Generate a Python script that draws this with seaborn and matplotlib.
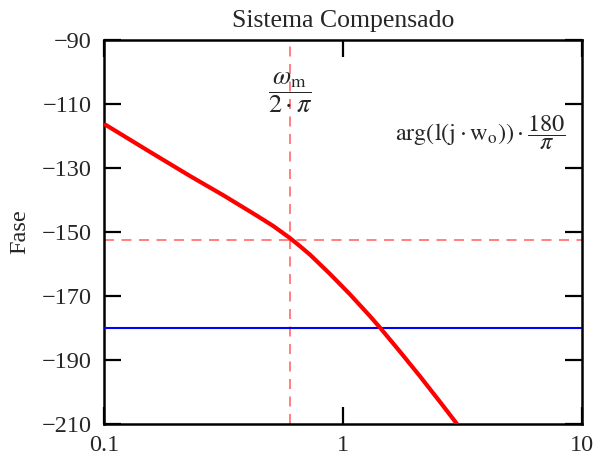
import matplotlib
matplotlib.use("Agg")
import matplotlib.pyplot as plt
import seaborn as sns
import pandas as pd

# Compensated open-loop phase (degrees) vs frequency (Hz)
freq_hz = [0.1, 0.156, 0.229, 0.317, 0.436, 0.51, 0.6, 0.66, 0.728, 0.882, 1.07, 1.297,
           1.429, 1.732, 2.10, 2.547, 3.0]
phase_deg = [-116.2, -125.0, -132.5, -138.6, -144.9, -148.1, -151.9, -154.4, -157.1, -163.1,
             -169.5, -176.3, -179.9, -187.4, -195.1, -203.1, -210.0]

# Crossover frequency wm/(2*pi) and phase there
f_m = 0.6
phase_m = -152.5
phase_ref = -180.0

y_ticks = [-90, -110, -130, -150, -170, -190, -210]
y_tick_labels = ["\u221290", "\u2212110", "\u2212130", "\u2212150", "\u2212170", "\u2212190", "\u2212210"]
x_ticks = [0.1, 1, 10]
x_tick_labels = ["0.1", "1", "10"]

sns.set_style("white")
plt.rcParams["font.family"] = ["Liberation Serif", "DejaVu Serif"]
plt.rcParams["mathtext.fontset"] = "stix"

fig = plt.figure(figsize=(5.98, 4.59), dpi=100)
ax = fig.add_axes([104 / 598, 1 - 424 / 459, 478 / 598, 384 / 459])

df = pd.DataFrame({"f": freq_hz, "fase": phase_deg})
sns.lineplot(data=df, x="f", y="fase", ax=ax, color="#ff0000", linewidth=3.0,
             sort=False, estimator=None, solid_joinstyle="round", solid_capstyle="butt",
             zorder=4)

ax.axhline(phase_ref, color="#0000ff", linewidth=1.5, zorder=3)
ax.axhline(phase_m, color="#ff6b6b", linewidth=1.2, linestyle=(0, (6, 4.5)), zorder=2)
ax.axvline(f_m, color="#ff6b6b", linewidth=1.2, linestyle=(0, (6, 4.5)), zorder=2)

ax.set_xscale("log")
ax.set_xlim(0.1, 10)
ax.set_ylim(-210, -90)
ax.set_xticks(x_ticks)
ax.set_xticklabels(x_tick_labels)
ax.xaxis.set_minor_locator(matplotlib.ticker.NullLocator())
ax.set_yticks(y_ticks)
ax.set_yticklabels(y_tick_labels)

ax.tick_params(axis="both", which="major", direction="in", length=12, width=1.6,
               color="black", labelsize=17.5, top=True, right=True,
               bottom=True, left=True)
ax.tick_params(axis="x", pad=8)
ax.tick_params(axis="y", pad=9)

for sp in ax.spines.values():
    sp.set_visible(True)
    sp.set_color("black")
    sp.set_linewidth(1.8)

ax.set_xlabel("")
ax.set_ylabel("Fase", fontsize=17.5, labelpad=8)
ax.set_title("Sistema Compensado", fontsize=18.5, pad=9)

ax.text(0.6, -106.5, r"$\dfrac{\omega_{\mathrm{m}}}{2\cdot\pi}$", fontsize=19,
        ha="center", va="center", zorder=5)
ax.text(0.9645, 0.758, r"$\mathrm{arg}\left(\mathrm{l}\left(\mathrm{j}\cdot\mathrm{w}_{\mathrm{o}}\right)\right)\cdot\dfrac{180}{\pi}$",
        transform=ax.transAxes, fontsize=17.5, ha="right", va="center", zorder=5)

fig.savefig("out.png", dpi=100)
